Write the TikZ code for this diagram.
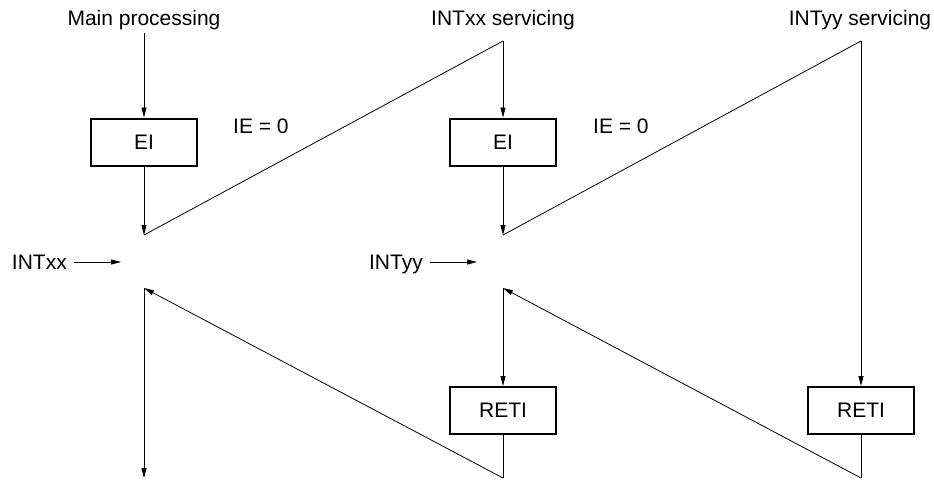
\documentclass[tikz,border=0pt]{standalone}
\usepackage{fontspec}
\setmainfont{Liberation Sans}
\usetikzlibrary{arrows.meta}
\begin{document}
\begin{tikzpicture}[x=1pt,y=-1pt,
  line/.style={draw=black,line width=0.8pt},
  arr/.style={line,-{Triangle[length=10pt,width=5pt]}},
  opbox/.style={draw=black,line width=2pt,minimum width=106pt,minimum height=47pt,inner sep=0pt,font=\fontsize{21}{25}\selectfont},
  lbl/.style={inner sep=0pt,font=\fontsize{21}{25}\selectfont},
  inlbl/.style={lbl,anchor=base east,inner xsep=7pt}]
\useasboundingbox (0,0) rectangle (934,480);
% titles
\node[lbl,anchor=base] (mp) at (144,25) {Main processing};
\node[lbl,anchor=base] (sx) at (503,25) {INTxx servicing};
\node[lbl,anchor=base] (sy) at (860,25) {INTyy servicing};
% boxes
\node[opbox] (ei1) at (144,142) {EI};
\node[opbox] (ei2) at (503,142) {EI};
\node[opbox] (reti2) at (503,410.5) {RETI};
\node[opbox] (reti3) at (861,410.5) {RETI};
% labels
\node[lbl,anchor=base west] (ie1) at (233,133) {IE = 0};
\node[lbl,anchor=base west] (ie2) at (593,133) {IE = 0};
\node[inlbl] (intxx) at (74,269) {INTxx};
\node[inlbl] (intyy) at (430,269) {INTyy};
% coordinates
\coordinate (m0) at (144,33);
\coordinate (a1) at (144,235);
\coordinate (r1) at (144,288);
\coordinate (e1) at (144,478);
\coordinate (t2) at (503,41);
\coordinate (a2) at (503,235);
\coordinate (r2) at (503,288);
\coordinate (b2) at (503,478);
\coordinate (t3) at (861,41);
\coordinate (b3) at (861,478);
\coordinate (ix) at (121,262);
\coordinate (iy) at (477,262);
% connectors
\draw[arr] (m0) -- (ei1);
\draw[arr] (ei1) -- (a1);
\draw[line] (a1) -- (t2);
\draw[arr] (t2) -- (ei2);
\draw[arr] (ei2) -- (a2);
\draw[line] (a2) -- (t3);
\draw[arr] (t3) -- (reti3);
\draw[line] (reti3) -- (b3);
\draw[arr] (b3) -- (r2);
\draw[arr] (r2) -- (reti2);
\draw[line] (reti2) -- (b2);
\draw[arr] (b2) -- (r1);
\draw[arr] (r1) -- (e1);
\draw[arr] (intxx.base east |- ix) -- (ix);
\draw[arr] (intyy.base east |- iy) -- (iy);
\end{tikzpicture}
\end{document}
